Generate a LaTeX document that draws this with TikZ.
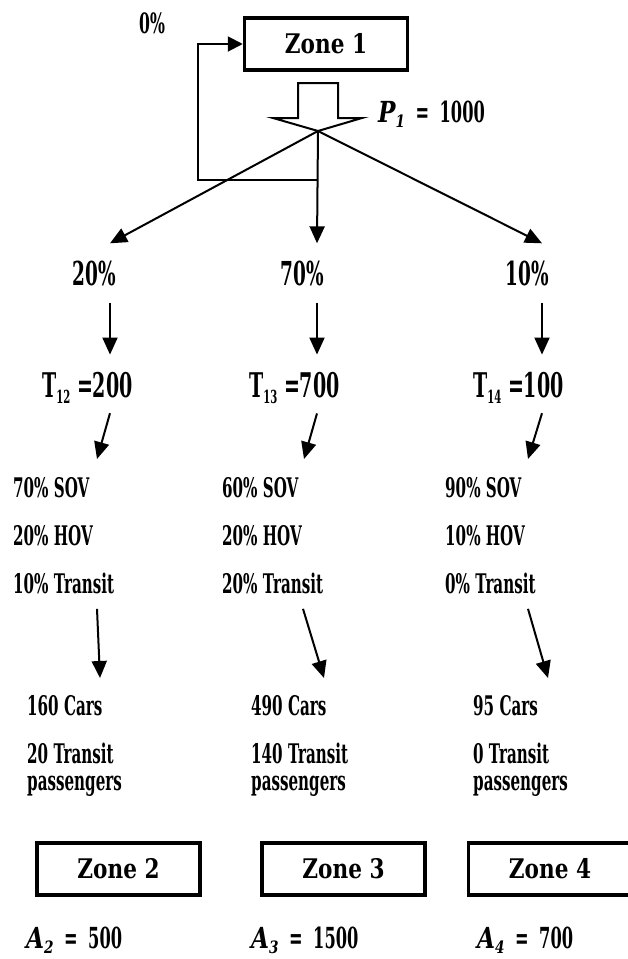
\documentclass[tikz,border=0pt]{standalone}
\usepackage{fontspec}
\setmainfont{DejaVu Serif}[FakeStretch=0.56]
\newfontfamily\zonefont{DejaVu Serif}[FakeStretch=0.8]
\newfontfamily\varfont{DejaVu Serif}[FakeStretch=0.8]
\usetikzlibrary{arrows.meta,calc}

% lowered small index, and a bold italic symbol with its index
\newcommand{\lowsub}[1]{\raisebox{-6pt}{\fontsize{18}{18}\selectfont #1}}
\newcommand{\varsym}[2]{{\varfont\bfseries\itshape #1\raisebox{-5pt}{\fontsize{17}{17}\selectfont #2}}}

\begin{document}
\begin{tikzpicture}[x=1pt,y=1pt]
        \tikzstyle{every node}+=[inner sep=0pt]
        \tikzset{
          zone/.style={draw, line width=3.5pt, minimum width=163pt, minimum height=52pt,
            font=\zonefont\bfseries\fontsize{27}{32}\selectfont},
          pct/.style={font=\bfseries\fontsize{33}{40}\selectfont, anchor=base},
          trip/.style={font=\bfseries\fontsize{34}{40}\selectfont, anchor=base west},
          split/.style={font=\bfseries\fontsize{27}{48}\selectfont, anchor=north west, align=left},
          flow/.style={font=\bfseries\fontsize{27}{27}\selectfont, anchor=north west, align=left},
          total/.style={font=\bfseries\fontsize{29}{34}\selectfont, anchor=base west},
          arr/.style={line width=2pt, -{Triangle[length=17pt,width=15pt]}}
        }
        \useasboundingbox (0,0) rectangle (628,-959);

        % origin zone and its productions
        \node [zone] (z1) at (326,-44) {Zone 1};
        \node [font=\bfseries\fontsize{28}{32}\selectfont, anchor=base] (zero) at (152,-33) {0\%};
        \coordinate (tip) at (318,-131);
        \draw [line width=2pt] (tip) -- ++(-45,13) -- ++(25,0) -- ++(0,35) -- ++(40,0)
              -- ++(0,-35) -- ++(24,0) -- cycle;
        \node [total] (p1) at (378,-122) {\varsym{P}{1}\, = \,1000};
        \coordinate (fb) at (318,-180);
        \draw [line width=2pt, -{Triangle[length=15pt,width=15pt]}] (fb) -- ++(-120,0) |- (z1.west);

        % columns of the three destinations
        \coordinate (cA) at (110,0);
        \coordinate (cB) at (317,0);
        \coordinate (cC) at (542,0);

        \node [pct] (pA) at (94,-285) {20\%};
        \node [pct] (pB) at (302,-285) {70\%};
        \node [pct] (pC) at (527,-285) {10\%};

        \node [trip] (tA) at (42,-397) {T\lowsub{12} =200};
        \node [trip] (tB) at (249,-397) {T\lowsub{13} =700};
        \node [trip] (tC) at (473,-397) {T\lowsub{14} =100};

        \node [split] (mA) at (13,-477) {70\% SOV\\20\% HOV\\10\% Transit};
        \node [split] (mB) at (222,-477) {60\% SOV\\20\% HOV\\20\% Transit};
        \node [split] (mC) at (445,-477) {90\% SOV\\10\% HOV\\0\% Transit};

        \node [flow] (rA) at (27,-695) {160 Cars\\[21pt]20 Transit\\passengers};
        \node [flow] (rB) at (251,-695) {490 Cars\\[21pt]140 Transit\\passengers};
        \node [flow] (rC) at (473,-695) {95 Cars\\[21pt]0 Transit\\passengers};

        \node [zone] (z2) at (118.5,-869) {Zone 2};
        \node [zone] (z3) at (343.5,-869) {Zone 3};
        \node [zone] (z4) at (550,-869) {Zone 4};

        \node [total] (aA) at (26,-948) {\varsym{A}{2}\, = \,500};
        \node [total] (aB) at (251,-948) {\varsym{A}{3}\, = \,1500};
        \node [total] (aC) at (477,-948) {\varsym{A}{4}\, = \,700};

        % distribution
        \draw [arr] (tip) -- ($(pA.north -| cA)+(0,17)$);
        \draw [arr] (tip) -- ($(pB.north -| cB)+(0,17)$);
        \draw [arr] (tip) -- ($(pC.north -| cC)+(0,17)$);
        \draw [arr] ($(pA.south -| cA)+(0,-17)$) -- ($(tA.north -| cA)+(0,17)$);
        \draw [arr] ($(pB.south -| cB)+(0,-17)$) -- ($(tB.north -| cB)+(0,17)$);
        \draw [arr] ($(pC.south -| cC)+(0,-17)$) -- ($(tC.north -| cC)+(0,17)$);

        % mode split and vehicle trips
        \draw [arr] ($(tA.south -| cA)+(0,-10)$) -- ($(mA.north west)+(84,18)$);
        \draw [arr] ($(tB.south -| cB)+(0,-10)$) -- ($(mB.north west)+(82,18)$);
        \draw [arr] ($(tC.south -| cC)+(0,-10)$) -- ($(mC.north west)+(83,18)$);
        \draw [arr] ($(mA.south west)+(84,-15)$) -- ($(rA.north west)+(73,17)$);
        \draw [arr] ($(mB.south west)+(81,-15)$) -- ($(rB.north west)+(73,17)$);
        \draw [arr] ($(mC.south west)+(83,-15)$) -- ($(rC.north west)+(75,17)$);
\end{tikzpicture}
\end{document}
